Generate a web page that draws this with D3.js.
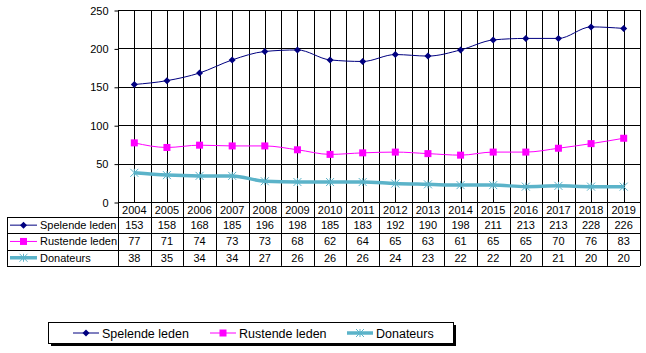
<!DOCTYPE html>
<html>
<head>
<meta charset="utf-8">
<script src="https://cdn.jsdelivr.net/npm/d3@7"></script>
<style>
  body { margin: 0; background: #fff; }
  svg text { font-family: Arial, "Liberation Sans", sans-serif; font-size: 11px; fill: #000; }
</style>
</head>
<body>
<div id="chart"></div>
<script>
const years = ['2004', '2005', '2006', '2007', '2008', '2009', '2010', '2011',
  '2012', '2013', '2014', '2015', '2016', '2017', '2018', '2019'];
const spelende = [153, 158, 168, 185, 196, 198, 185, 183, 192, 190, 198, 211, 213, 213, 228, 226];
const rustende = [77, 71, 74, 73, 73, 68, 62, 64, 65, 63, 61, 65, 65, 70, 76, 83];
const donateurs = [38, 35, 34, 34, 27, 26, 26, 26, 24, 23, 22, 22, 20, 21, 20, 20];
const yTicks = [0, 50, 100, 150, 200, 250];

const series = [
  { name: 'Spelende leden', values: spelende, color: '#000080', width: 1, marker: 'diamond' },
  { name: 'Rustende leden', values: rustende, color: '#ff00ff', width: 1, marker: 'square' },
  { name: 'Donateurs', values: donateurs, color: '#5bb3c9', width: 3.5, marker: 'star' },
];

const W = 646, H = 353;
const plotLeft = 118, plotRight = 640, plotTop = 10, plotBottom = 202;
const tableLeft = 7, rowH = 16.3;

const svg = d3.select('#chart').append('svg')
  .attr('width', W).attr('height', H);

const x = d3.scaleBand().domain(years).range([plotLeft, plotRight]);
const y = d3.scaleLinear().domain([0, 250]).range([plotBottom, plotTop]);
const cx = (d, i) => x(years[i]) + x.bandwidth() / 2;

// gridlines
svg.append('g').selectAll('line.h')
  .data(yTicks)
  .enter().append('line')
  .attr('x1', plotLeft).attr('x2', plotRight)
  .attr('y1', (d) => Math.round(y(d)) + 0.5).attr('y2', (d) => Math.round(y(d)) + 0.5)
  .attr('stroke', '#000');

svg.append('g').selectAll('line.c')
  .data(years)
  .enter().append('line')
  .attr('x1', (d) => Math.round(x(d) + x.bandwidth() / 2) + 0.5)
  .attr('x2', (d) => Math.round(x(d) + x.bandwidth() / 2) + 0.5)
  .attr('y1', plotTop).attr('y2', plotBottom)
  .attr('stroke', '#000');

const bounds = years.map((d) => x(d)).concat([plotRight]);
const rowTop = plotBottom + 15;
const tableBottom = rowTop + rowH * 3;
svg.append('g').selectAll('line.b')
  .data(bounds)
  .enter().append('line')
  .attr('x1', (d) => Math.round(d) + 0.5).attr('x2', (d) => Math.round(d) + 0.5)
  .attr('y1', plotTop).attr('y2', tableBottom)
  .attr('stroke', '#000');

// y axis
const yAxis = d3.axisLeft(y).tickValues(yTicks).tickSize(4).tickPadding(6);
svg.append('g')
  .attr('transform', `translate(${plotLeft + 0.5},0.5)`)
  .call(yAxis)
  .attr('font-family', null)
  .attr('font-size', null)
  .call((g) => g.select('.domain').remove());

// year labels
svg.append('g').selectAll('text')
  .data(years)
  .enter().append('text')
  .attr('x', (d) => x(d) + x.bandwidth() / 2)
  .attr('y', plotBottom + 12)
  .attr('text-anchor', 'middle')
  .text((d) => d);

// table rows
svg.append('g').selectAll('line.r')
  .data(d3.range(4))
  .enter().append('line')
  .attr('x1', tableLeft).attr('x2', plotRight)
  .attr('y1', (d) => Math.round(rowTop + d * rowH) + 0.5)
  .attr('y2', (d) => Math.round(rowTop + d * rowH) + 0.5)
  .attr('stroke', '#000');
svg.append('line')
  .attr('x1', tableLeft + 0.5).attr('x2', tableLeft + 0.5)
  .attr('y1', rowTop).attr('y2', tableBottom)
  .attr('stroke', '#000');

function drawMarker(g, type, color, px, py) {
  if (type === 'diamond') {
    g.append('path')
      .attr('d', `M${px},${py - 3.5}L${px + 3.5},${py}L${px},${py + 3.5}L${px - 3.5},${py}Z`)
      .attr('fill', color);
  } else if (type === 'square') {
    g.append('rect')
      .attr('x', px - 3.5).attr('y', py - 3.5).attr('width', 7).attr('height', 7)
      .attr('fill', color);
  } else {
    g.append('path')
      .attr('d', `M${px - 4},${py - 4}L${px + 4},${py + 4}M${px - 4},${py + 4}L${px + 4},${py - 4}M${px},${py - 4}L${px},${py + 4}`)
      .attr('stroke', color).attr('stroke-width', 1).attr('fill', 'none');
  }
}

const line = d3.line()
  .x((d, i) => cx(d, i))
  .y((d) => y(d))
  .curve(d3.curveMonotoneX);

series.forEach((s, si) => {
  const g = svg.append('g');
  g.append('path')
    .datum(s.values)
    .attr('d', line)
    .attr('fill', 'none')
    .attr('stroke', s.color)
    .attr('stroke-width', s.width);
  s.values.forEach((v, i) => drawMarker(g, s.marker, s.color, cx(v, i), y(v)));

  // table row
  const ry = rowTop + si * rowH;
  const lg = svg.append('g');
  lg.append('line')
    .attr('x1', 10).attr('x2', 37)
    .attr('y1', ry + rowH / 2).attr('y2', ry + rowH / 2)
    .attr('stroke', s.color).attr('stroke-width', s.width);
  drawMarker(lg, s.marker, s.color, 23.5, ry + rowH / 2);
  lg.append('text')
    .attr('x', 40).attr('y', ry + rowH / 2 + 4)
    .text(s.name);
  svg.append('g').selectAll('text')
    .data(s.values)
    .enter().append('text')
    .attr('x', (d, i) => cx(d, i))
    .attr('y', ry + rowH / 2 + 4)
    .attr('text-anchor', 'middle')
    .text((d) => d);
});

// legend box
const lx = 48, ly = 322, lw = 405, lh = 21;
svg.append('rect')
  .attr('x', lx + 3).attr('y', ly + 3).attr('width', lw).attr('height', lh)
  .attr('fill', '#000');
svg.append('rect')
  .attr('x', lx + 0.5).attr('y', ly + 0.5).attr('width', lw).attr('height', lh)
  .attr('fill', '#fff').attr('stroke', '#000');

const legendX = [73, 210, 347];
series.forEach((s, i) => {
  const g = svg.append('g');
  const my = ly + lh / 2 + 0.5;
  g.append('line')
    .attr('x1', legendX[i]).attr('x2', legendX[i] + 26)
    .attr('y1', my).attr('y2', my)
    .attr('stroke', s.color).attr('stroke-width', s.width);
  drawMarker(g, s.marker, s.color, legendX[i] + 13, my);
  g.append('text')
    .attr('x', legendX[i] + 29).attr('y', my + 4.5)
    .style('font-size', '12.5px')
    .text(s.name);
});
</script>
</body>
</html>
